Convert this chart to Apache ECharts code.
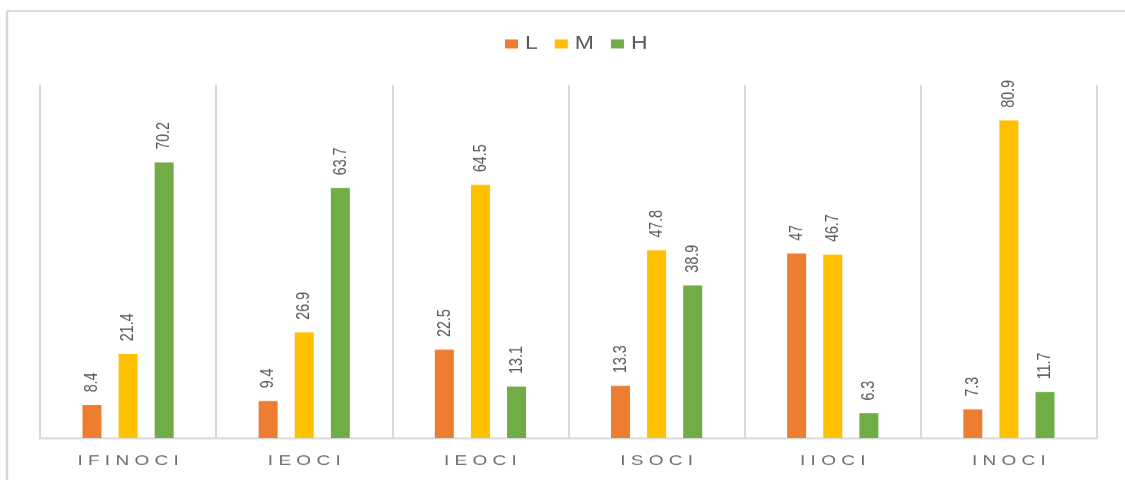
<!DOCTYPE html>
<html>
<head>
<meta charset="utf-8">
<script src="https://cdn.jsdelivr.net/npm/echarts@6/dist/echarts.min.js"></script>
<style>
  html, body { margin: 0; padding: 0; background: #fff; overflow: hidden; }
  #wrap { width: 1125px; height: 480px; overflow: hidden; }
  /* chart is laid out on a taller canvas and squeezed vertically */
  #chart { width: 1125px; height: 640px; transform: scaleY(0.75); transform-origin: 0 0; }
</style>
</head>
<body>
<div id="wrap"><div id="chart"></div></div>
<script>
// Index groups and the share of L / M / H ratings in each
const categories = ['IFINOCI', 'IEOCI', 'IEOCI', 'ISOCI', 'IIOCI', 'INOCI'];
const seriesNames = ['L', 'M', 'H'];
const valuesL = [8.4, 9.4, 22.5, 13.3, 47, 7.3];
const valuesM = [21.4, 26.9, 64.5, 47.8, 46.7, 80.9];
const valuesH = [70.2, 63.7, 13.1, 38.9, 6.3, 11.7];
const colors = ['#ED7D31', '#FFC000', '#70AD47'];

const chart = echarts.init(document.getElementById('chart'));
const textGray = '#595959';
const lineGray = '#d9d9d9';
const font = '"Liberation Sans", Arial, sans-serif';

function makeSeries(name, data, color) {
  return {
    name: name,
    type: 'bar',
    data: data,
    barWidth: 19,
    barGap: '90%',
    itemStyle: { color: color },
    label: {
      show: true,
      position: 'top',
      rotate: 90,
      align: 'left',
      verticalAlign: 'middle',
      distance: 17,
      color: textGray,
      fontSize: 19,
      fontFamily: font
    }
  };
}

chart.setOption({
  animation: false,
  backgroundColor: '#fff',
  graphic: [{
    type: 'rect',
    shape: { x: 7, y: 14.7, width: 1300, height: 800 },
    style: { fill: 'none', stroke: lineGray, lineWidth: 2.5 },
    silent: true
  }],
  legend: {
    data: seriesNames,
    top: 42,
    left: 500,
    itemWidth: 13,
    itemHeight: 12,
    itemGap: 17,
    icon: 'rect',
    textStyle: { color: textGray, fontSize: 23, fontFamily: font, padding: [0, 0, 0, 2] }
  },
  grid: { left: 40, right: 28, top: 113, bottom: 56 },
  xAxis: {
    type: 'category',
    data: categories,
    axisLine: { show: true, lineStyle: { color: lineGray, width: 2.5 } },
    axisTick: { show: false },
    splitLine: { show: true, lineStyle: { color: lineGray, width: 2 } },
    axisLabel: {
      color: '#6e6e6e',
      fontSize: 19,
      margin: 21,
      fontFamily: font,
      formatter: function (v) { return v.split('').join(' '); }
    }
  },
  yAxis: {
    type: 'value',
    min: 0,
    max: 90,
    show: false,
    splitLine: { show: false }
  },
  series: [
    makeSeries(seriesNames[0], valuesL, colors[0]),
    makeSeries(seriesNames[1], valuesM, colors[1]),
    makeSeries(seriesNames[2], valuesH, colors[2])
  ]
});
</script>
</body>
</html>
